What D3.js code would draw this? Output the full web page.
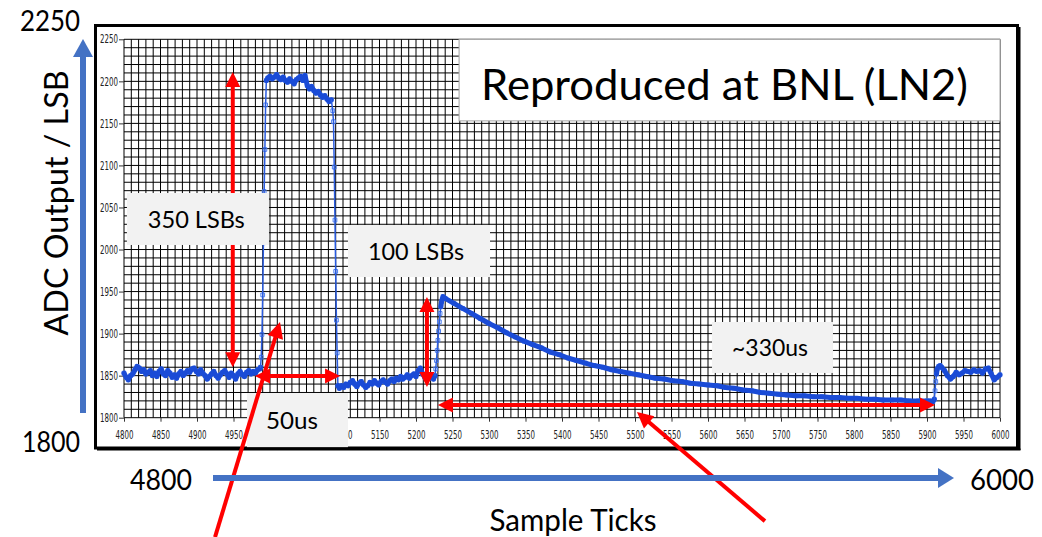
<!DOCTYPE html>
<html><head><meta charset="utf-8">
<script src="https://cdn.jsdelivr.net/npm/d3@7"></script>
<style>html,body{margin:0;padding:0;background:#fff;}svg{display:block}</style>
</head><body>
<svg id="c" width="1042" height="537"></svg>
<script>
// ---------- tick labels ----------
const xTickLabels = [4800,4850,4900,4950,5000,5050,5100,5150,5200,5250,5300,5350,5400,5450,5500,5550,5600,5650,5700,5750,5800,5850,5900,5950,6000];
const yTickLabels = [1800,1850,1900,1950,2000,2050,2100,2150,2200,2250];

// ---------- series (sample tick, ADC value) ----------
const baselineTicks = d3.range(4800, 4987, 3);
const baselineValues = [1853,1848,1845,1850,1852,1857,1861,1859,1855,1857,1852,1854,1856,1850,1853,1849,1855,1858,1852,1850,1856,1853,1848,1851,1847,1852,1855,1850,1853,1856,1854,1858,1859,1855,1852,1857,1853,1850,1846,1849,1852,1855,1850,1847,1851,1854,1856,1852,1848,1853,1850,1846,1852,1855,1851,1849,1854,1856,1852,1855,1853,1857,1858];
const riseTicks = [4987,4988,4989,4990,4991,4992,4993,4994,4995];
const riseValues = [1860,1872,1899,1946,2008,2069,2119,2172,2201];
const plateauTicks = d3.range(4997, 5085, 3);
const plateauValues = [2204,2206,2203,2205,2208,2204,2202,2205,2201,2199,2203,2200,2197,2202,2204,2206,2201,2207,2195,2191,2194,2189,2186,2188,2184,2181,2183,2179,2176,2178];
const fallTicks = [5086,5087,5088,5089,5090,5091,5092,5093];
const fallValues = [2165,2152,2098,2035,1974,1916,1877,1838];
const lowTicks = d3.range(5095, 5225, 3);
const lowValues = [1835,1838,1836,1840,1838,1842,1844,1840,1837,1841,1843,1839,1836,1838,1842,1840,1844,1841,1839,1843,1845,1842,1840,1844,1846,1843,1847,1845,1849,1846,1848,1851,1847,1850,1852,1849,1856,1859,1852,1848,1850,1847,1849,1846];
const pulseRiseTicks = [5226,5227,5228,5229,5230,5231,5232,5233,5234,5235,5236,5237];
const pulseRiseValues = [1850,1858,1868,1880,1892,1903,1914,1924,1932,1938,1941,1944];
const decayTicks = d3.range(5240, 5901, 12);
const decayValues = [1942,1936,1930,1924,1918,1912,1907,1901,1896,1891,1887,1883,1878,1875,1871,1868,1865,1862,1860,1857,1855,1853,1851,1849,1847,1846,1844,1843,1841,1840,1839,1838,1836,1835,1833,1832,1830,1829,1828,1827,1826,1826,1825,1825,1824,1824,1823,1823,1822,1822,1821,1821,1821,1820,1820,1820];
const recoverTicks = [5904,5908,5910,5911,5912,5913,5914,5916,5918];
const recoverValues = [1820,1819,1822,1832,1843,1852,1858,1861,1862];
const tailTicks = d3.range(5920, 6001, 4);
const tailValues = [1860,1856,1850,1846,1849,1854,1851,1853,1856,1855,1854,1857,1855,1856,1853,1858,1859,1852,1845,1848,1851];

const segments = [
  [baselineTicks, baselineValues], [riseTicks, riseValues], [plateauTicks, plateauValues],
  [fallTicks, fallValues], [lowTicks, lowValues], [pulseRiseTicks, pulseRiseValues],
  [decayTicks, decayValues], [recoverTicks, recoverValues], [tailTicks, tailValues]
];
const data = [];
segments.forEach(([t, v]) => t.forEach((tk, i) => data.push({t: tk, v: v[i]})));

// ---------- annotations (in data units) ----------
const doubleArrows = [
  [[4949, 2211], [4949, 1860]],
  [[4979.5, 1849.5], [5096, 1849.5]],
  [[5215, 1943.5], [5215, 1836.5]],
  [[5230, 1815], [5911, 1815]]
];
const pointerArrows = [
  [[4924.7, 1658], [5013.7, 1913.8]],
  [[5678, 1677], [5502.7, 1806.8]]
];
const noteBoxes = [
  {label: "350 LSBs", x: [4804, 4998.6], y: [2067.2, 2005.4], tx: 4899, len: 97},
  {label: "100 LSBs", x: [5106.8, 5301.4], y: [2029.2, 1967.3], tx: 5200, len: 96},
  {label: "50us", x: [4968.5, 5106.8], y: [1829.4, 1765], tx: 5030, len: 52},
  {label: "~330us", x: [5605.5, 5771.2], y: [1913.8, 1853.2], tx: 5685, len: 76}
];

// ---------- drawing ----------
const svg = d3.select("#c");
const FONT = "Lato, 'Open Sans', sans-serif";
const x = d3.scaleLinear().domain([4800, 6000]).range([124, 1000]);
const y = d3.scaleLinear().domain([1800, 2250]).range([417.7, 39.3]);

// frame
svg.append("rect").attr("x", 95.5).attr("y", 25.5).attr("width", 922).attr("height", 422.5)
  .attr("fill", "#fff").attr("stroke", "#000").attr("stroke-width", 3);
svg.append("line").attr("x1", 1019.5).attr("x2", 1019.5).attr("y1", 27).attr("y2", 450).attr("stroke", "#000").attr("stroke-width", 2);
svg.append("line").attr("x1", 97).attr("x2", 1020.5).attr("y1", 449.5).attr("y2", 449.5).attr("stroke", "#000").attr("stroke-width", 2);

// grid
const grid = svg.append("g");
grid.selectAll("line.v").data(d3.range(4800, 6001, 10)).join("line")
  .attr("x1", d => x(d)).attr("x2", d => x(d)).attr("y1", y(2250)).attr("y2", y(1800))
  .attr("stroke", "#000").attr("stroke-width", 1);
grid.selectAll("line.h").data(d3.range(1800, 2251, 10)).join("line").attr("class", "h")
  .attr("x1", x(4800)).attr("x2", x(6000)).attr("y1", d => y(d)).attr("y2", d => y(d))
  .attr("stroke", "#000").attr("stroke-width", 1);

// axes
const xa = svg.append("g").attr("transform", `translate(0,${y(1800)})`)
  .call(d3.axisBottom(x).tickValues(xTickLabels).tickSize(4).tickPadding(9).tickFormat(d3.format("d")));
const ya = svg.append("g").attr("transform", `translate(${x(4800)},0)`)
  .call(d3.axisLeft(y).tickValues(yTickLabels).tickSize(5).tickPadding(1).tickFormat(d3.format("d")));
[xa, ya].forEach(a => {
  a.select(".domain").remove();
  a.selectAll(".tick line").attr("stroke", "#333");
  a.selectAll(".tick text").attr("fill", "#222")
    .style("font-family", "'Liberation Sans Narrow','DejaVu Sans Condensed',sans-serif")
    .style("font-size", "11.5px").attr("textLength", 18).attr("lengthAdjust", "spacingAndGlyphs");
});

// data: markers then line runs
const pts = data.map(d => [x(d.t), y(d.v)]);
svg.append("g").selectAll("path").data(data).join("path")
  .attr("d", d3.symbol(d3.symbolSquare, 14))
  .attr("transform", d => `translate(${x(d.t)},${y(d.v)})`)
  .attr("fill", "none").attr("stroke", "#4d7ff0").attr("stroke-width", 1);
const runs = [];
for (let i = 0; i < data.length - 1; i++) {
  const steep = Math.abs(data[i + 1].v - data[i].v) / (data[i + 1].t - data[i].t) > 6;
  const last = runs[runs.length - 1];
  if (last && last.steep === steep) last.p.push(pts[i + 1]);
  else runs.push({steep, p: [pts[i], pts[i + 1]]});
}
const lineGen = d3.line();
svg.append("g").selectAll("path").data(runs).join("path")
  .attr("d", r => lineGen(r.p)).attr("fill", "none")
  .attr("stroke", r => r.steep ? "#2a5ce0" : "#1a4bd6")
  .attr("stroke-width", r => r.steep ? 1.5 : 5)
  .attr("stroke-linejoin", "round").attr("stroke-linecap", "round");

// arrow helper
function arrow(p0, p1, both, color, w, hl, hw) {
  const a = [x(p0[0]), y(p0[1])], b = [x(p1[0]), y(p1[1])];
  const dx = b[0] - a[0], dy = b[1] - a[1], L = Math.hypot(dx, dy), ux = dx / L, uy = dy / L;
  const nx = -uy, ny = ux;
  const s = both ? [a[0] + ux * hl * 0.8, a[1] + uy * hl * 0.8] : a;
  const e = [b[0] - ux * hl * 0.8, b[1] - uy * hl * 0.8];
  const g = svg.append("g");
  g.append("line").attr("x1", s[0]).attr("y1", s[1]).attr("x2", e[0]).attr("y2", e[1])
    .attr("stroke", color).attr("stroke-width", w);
  const head = (tip, sx, sy) => g.append("path").attr("fill", color).attr("d",
    `M${tip[0]},${tip[1]}L${tip[0] - sx * hl + nx * hw},${tip[1] - sy * hl + ny * hw}L${tip[0] - sx * hl - nx * hw},${tip[1] - sy * hl - ny * hw}Z`);
  head(b, ux, uy);
  if (both) head(a, -ux, -uy);
}
doubleArrows.forEach(([p0, p1]) => arrow(p0, p1, true, "#ff0000", 4, 15, 7.5));

// title box
svg.append("rect").attr("x", x(5259)).attr("y", y(2250)).attr("width", x(6000) - x(5259))
  .attr("height", y(2153) - y(2250)).attr("fill", "#fff").attr("stroke", "#a6a6a6").attr("stroke-width", 1);
svg.append("text").attr("x", 724.5).attr("y", 100).attr("text-anchor", "middle")
  .style("font-family", FONT).style("font-size", "42px").attr("fill", "#000")
  .attr("textLength", 487).attr("lengthAdjust", "spacingAndGlyphs").text("Reproduced at BNL (LN2)");

// note boxes
noteBoxes.forEach(b => {
  const x0 = x(b.x[0]), x1 = x(b.x[1]), y0 = y(b.y[0]), y1 = y(b.y[1]);
  svg.append("rect").attr("x", x0).attr("y", y0).attr("width", x1 - x0).attr("height", y1 - y0).attr("fill", "#f2f2f2");
  svg.append("text").attr("x", x(b.tx)).attr("y", (y0 + y1) / 2 + 8.6).attr("text-anchor", "middle")
    .style("font-family", FONT).style("font-size", "24px").attr("fill", "#000")
    .attr("textLength", b.len).attr("lengthAdjust", "spacingAndGlyphs").text(b.label);
});

pointerArrows.forEach(([p0, p1]) => arrow(p0, p1, false, "#ff0000", 4, 16, 8));

// outer axis arrows and labels
const blue = "#4472c4";
svg.append("rect").attr("x", 80).attr("y", 56).attr("width", 6).attr("height", 357).attr("fill", blue);
svg.append("path").attr("d", "M73,57L93,57L83,39Z").attr("fill", blue);
svg.append("rect").attr("x", 213).attr("y", 475).attr("width", 726).attr("height", 6).attr("fill", blue);
svg.append("path").attr("d", "M938,468L938,488L954,478Z").attr("fill", blue);

function label(t, cx, by, size, len) {
  return svg.append("text").attr("x", cx).attr("y", by).attr("text-anchor", "middle")
    .style("font-family", FONT).style("font-size", size + "px").attr("fill", "#000")
    .attr("textLength", len).attr("lengthAdjust", "spacingAndGlyphs").text(t);
}
label("2250", 50, 31, 28, 60);
label("1800", 51, 452, 28, 58);
label("4800", 161, 490, 28, 62);
label("6000", 1002, 490, 28, 64);
label("Sample Ticks", 573, 531, 30, 167);
svg.append("text").attr("transform", "translate(68,203) rotate(-90)").attr("text-anchor", "middle")
  .style("font-family", FONT).style("font-size", "32px").attr("fill", "#000")
  .attr("textLength", 265).attr("lengthAdjust", "spacingAndGlyphs").text("ADC Output / LSB");
</script>
</body></html>
